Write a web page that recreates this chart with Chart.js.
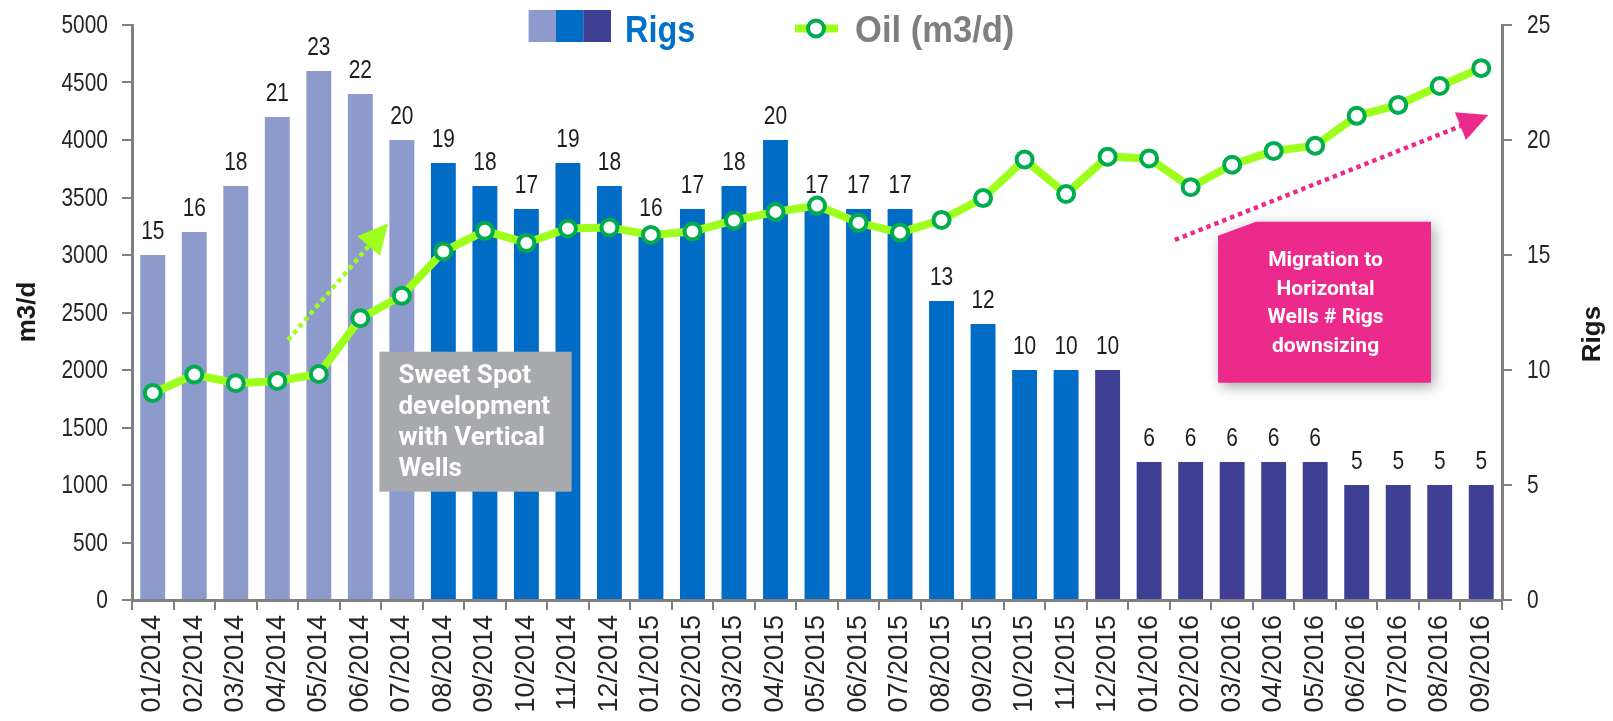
<!DOCTYPE html>
<html><head><meta charset="utf-8">
<script src="https://cdn.jsdelivr.net/npm/chart.js@4.4.1/dist/chart.umd.min.js"></script>
<style>html,body{margin:0;padding:0;background:#fff;overflow:hidden}canvas{display:block}</style>
</head><body>
<canvas id="c" width="1613" height="721"></canvas>
<script>
// ---------- DATA ----------
const months = ['01/2014','02/2014','03/2014','04/2014','05/2014','06/2014','07/2014','08/2014','09/2014','10/2014','11/2014','12/2014',
  '01/2015','02/2015','03/2015','04/2015','05/2015','06/2015','07/2015','08/2015','09/2015','10/2015','11/2015','12/2015',
  '01/2016','02/2016','03/2016','04/2016','05/2016','06/2016','07/2016','08/2016','09/2016'];
const rigs = [15,16,18,21,23,22,20,19,18,17,19,18, 16,17,18,20,17,17,17,13,12,10,10,10, 6,6,6,6,6,5,5,5,5];
const oil = [1800,1960,1885,1905,1965,2450,2645,3030,3210,3105,3230,3240,
  3175,3205,3300,3375,3430,3280,3195,3305,3495,3830,3530,3855,
  3840,3590,3785,3905,3950,4210,4305,4470,4625];
const oilTicks = [0,500,1000,1500,2000,2500,3000,3500,4000,4500,5000];
const rigTicks = [0,5,10,15,20,25];
const legendLabels = ['Rigs','Oil (m3/d)'];
const axisTitles = ['m3/d','Rigs'];
const sweetSpotText = ['Sweet Spot','development','with Vertical','Wells'];
const migrationText = ['Migration to','Horizontal','Wells # Rigs','downsizing'];

// ---------- STYLE ----------
const C_LIGHT = '#8C9ACC', C_BLUE = '#006CC6', C_DARK = '#3F3F94';
const phaseEnds = [7, 23];
const C_LIME = '#9EFF1C', C_GREEN = '#00AC4E', C_AXIS = '#808080', C_TXT = '#262626';
const C_PINK = '#EC2A8C', C_GREY = '#A7A9AC';
const SANS = "'Liberation Sans', Arial, sans-serif";
const NARROW_X = 0.82;
const barColors = rigs.map((_, i) => i < phaseEnds[0] ? C_LIGHT : (i < phaseEnds[1] ? C_BLUE : C_DARK));

// annotation anchors in data coordinates (category index, m3/d)
const greySpot = {x0: 5.46, x1: 10.09, v0: 2159, v1: 942};
const pinkSpot = {x0: 25.66, x1: 30.79, v0: 3290, v1: 1890};
const greenArrow = {x0: 3.26, v0: 2261, x1: 5.67, v1: 3276};
const pinkArrow = {x0: 24.62, v0: 3131, x1: 32.17, v1: 4217};

Chart.defaults.font.family = SANS;
Chart.defaults.color = C_TXT;

function P(chart, xi, v) { return [chart.scales.x.getPixelForValue(xi), chart.scales.y.getPixelForValue(v)]; }

function squeezeText(ctx, text, x, y, align, sx) {
  ctx.save(); ctx.translate(x, y); ctx.scale(sx, 1); ctx.textAlign = align; ctx.fillText(text, 0, 0); ctx.restore();
}

function drawArrow(ctx, p0, p1, color) {
  const dx = p1[0]-p0[0], dy = p1[1]-p0[1], L = Math.hypot(dx, dy), ux = dx/L, uy = dy/L;
  const head = 30, half = 15;
  const bx = p1[0]-ux*head, by = p1[1]-uy*head;
  ctx.save();
  ctx.strokeStyle = color; ctx.lineWidth = 4.5; ctx.setLineDash([4.5, 4]); ctx.lineCap = 'butt';
  ctx.beginPath(); ctx.moveTo(p0[0], p0[1]); ctx.lineTo(bx+ux*2, by+uy*2); ctx.stroke();
  ctx.setLineDash([]); ctx.fillStyle = color;
  ctx.beginPath(); ctx.moveTo(p1[0], p1[1]);
  ctx.lineTo(bx - uy*half, by + ux*half); ctx.lineTo(bx + uy*half, by - ux*half);
  ctx.closePath(); ctx.fill();
  ctx.restore();
}

const overlay = {
  id: 'overlay',
  afterDatasetsDraw(chart) {
    const ctx = chart.ctx;
    // bar value labels
    const meta = chart.getDatasetMeta(0);
    ctx.save();
    ctx.font = '25.5px ' + SANS; ctx.fillStyle = '#1e1e1e'; ctx.textBaseline = 'alphabetic';
    meta.data.forEach((bar, i) => squeezeText(ctx, String(rigs[i]), bar.x, bar.y - 16, 'center', NARROW_X));
    ctx.restore();

    drawArrow(ctx, P(chart, greenArrow.x0, greenArrow.v0), P(chart, greenArrow.x1, greenArrow.v1), C_LIME);
    drawArrow(ctx, P(chart, pinkArrow.x0, pinkArrow.v0), P(chart, pinkArrow.x1, pinkArrow.v1), C_PINK);

    // grey box
    let [gx0, gy0] = P(chart, greySpot.x0, greySpot.v0);
    let [gx1, gy1] = P(chart, greySpot.x1, greySpot.v1);
    ctx.save();
    ctx.fillStyle = C_GREY; ctx.fillRect(gx0, gy0, gx1-gx0, gy1-gy0);
    ctx.fillStyle = '#fff'; ctx.font = "bold 26px Roboto, 'Liberation Sans', sans-serif";
    ctx.textAlign = 'left'; ctx.textBaseline = 'middle';
    sweetSpotText.forEach((t, k) => ctx.fillText(t, gx0 + 19, gy0 + 25 + k*31));
    ctx.restore();

    // pink box
    let [px0, py0] = P(chart, pinkSpot.x0, pinkSpot.v0);
    let [px1, py1] = P(chart, pinkSpot.x1, pinkSpot.v1);
    ctx.save();
    ctx.shadowColor = 'rgba(0,0,0,0.35)'; ctx.shadowBlur = 14; ctx.shadowOffsetX = 3; ctx.shadowOffsetY = 4;
    ctx.fillStyle = C_PINK;
    ctx.beginPath();
    ctx.moveTo(px0, py0 + 14); ctx.lineTo(px0 + 38, py0); ctx.lineTo(px1, py0); ctx.lineTo(px1, py1); ctx.lineTo(px0, py1);
    ctx.closePath(); ctx.fill();
    ctx.restore();
    ctx.save();
    ctx.fillStyle = '#fff'; ctx.font = "bold 21px Roboto, 'Liberation Sans', sans-serif";
    ctx.textAlign = 'center'; ctx.textBaseline = 'middle';
    migrationText.forEach((t, k) => ctx.fillText(t, (px0+px1)/2 + 1, py0 + 39 + k*28.7));
    ctx.restore();
  },
  afterDraw(chart) {
    const ctx = chart.ctx;
    const area = chart.chartArea;
    ctx.save();
    // y-axis tick labels (narrow face)
    ctx.font = '25.5px ' + SANS; ctx.fillStyle = C_TXT; ctx.textBaseline = 'middle';
    chart.scales.y.ticks.forEach(t => squeezeText(ctx, String(t.value), area.left - 24, chart.scales.y.getPixelForValue(t.value) + 1, 'right', NARROW_X));
    chart.scales.y1.ticks.forEach(t => squeezeText(ctx, String(t.value), area.right + 25, chart.scales.y1.getPixelForValue(t.value) + 1, 'left', NARROW_X));

    // legend swatches
    const sw = [C_LIGHT, C_BLUE, C_DARK];
    sw.forEach((c, k) => { ctx.fillStyle = c; ctx.fillRect(528.6 + k*27.4, 10, 27.6, 32); });
    ctx.font = 'bold 36px ' + SANS; ctx.textBaseline = 'alphabetic';
    ctx.fillStyle = '#0070C8'; squeezeText(ctx, legendLabels[0], 625, 42, 'left', 0.9);
    // line legend
    ctx.strokeStyle = C_LIME; ctx.lineWidth = 8;
    ctx.beginPath(); ctx.moveTo(795, 28.5); ctx.lineTo(838, 28.5); ctx.stroke();
    ctx.beginPath(); ctx.arc(816, 28.5, 8, 0, Math.PI*2); ctx.fillStyle = '#fff'; ctx.fill();
    ctx.lineWidth = 4; ctx.strokeStyle = C_GREEN; ctx.stroke();
    ctx.fillStyle = '#7F7F7F';
    squeezeText(ctx, legendLabels[1], 855, 42, 'left', 0.96);
    // axis titles
    ctx.font = "bold 26px " + SANS; ctx.fillStyle = '#1a1a1a';
    ctx.textAlign = 'center'; ctx.textBaseline = 'middle';
    ctx.save(); ctx.translate(28, 312); ctx.rotate(-Math.PI/2); ctx.fillText(axisTitles[0], 0, 0); ctx.restore();
    ctx.save(); ctx.translate(1593, 334); ctx.rotate(-Math.PI/2); ctx.fillText(axisTitles[1], 0, 0); ctx.restore();
    ctx.restore();
  }
};

new Chart(document.getElementById('c'), {
  data: {
    labels: months,
    datasets: [
      { type: 'bar', label: legendLabels[0], data: rigs, yAxisID: 'y1', order: 2,
        backgroundColor: barColors, borderWidth: 0, barPercentage: 0.6, categoryPercentage: 1.0 },
      { type: 'line', label: legendLabels[1], data: oil, yAxisID: 'y', order: 1,
        borderColor: C_LIME, borderWidth: 8, tension: 0,
        pointRadius: 8, pointHoverRadius: 8, pointBorderWidth: 4,
        pointBorderColor: C_GREEN, pointBackgroundColor: '#fff' }
    ]
  },
  options: {
    responsive: false, animation: false, devicePixelRatio: 1,
    layout: { padding: { top: 25, left: 0, right: 0, bottom: 0 } },
    plugins: { legend: { display: false }, tooltip: { enabled: false } },
    scales: {
      x: {
        afterFit: s => { s.height = 121; },
        grid: { display: true, drawOnChartArea: false, drawTicks: true, tickLength: 10, offset: true, color: C_AXIS, lineWidth: 2 },
        border: { display: true, color: C_AXIS, width: 3 },
        ticks: { autoSkip: false, maxRotation: 90, minRotation: 90, padding: 5, color: C_TXT, font: { size: 27 } }
      },
      y: {
        position: 'left',
        min: oilTicks[0], max: oilTicks[oilTicks.length-1],
        afterFit: s => { s.width = 132; },
        grid: { drawOnChartArea: false, drawTicks: true, tickLength: 10, color: C_AXIS, lineWidth: 2 },
        border: { display: true, color: C_AXIS, width: 3 },
        ticks: { display: false, stepSize: oilTicks[1]-oilTicks[0] }
      },
      y1: {
        position: 'right',
        min: rigTicks[0], max: rigTicks[rigTicks.length-1],
        afterFit: s => { s.width = 111; },
        grid: { drawOnChartArea: false, drawTicks: true, tickLength: 10, color: C_AXIS, lineWidth: 2 },
        border: { display: true, color: C_AXIS, width: 3 },
        ticks: { display: false, stepSize: rigTicks[1]-rigTicks[0] }
      }
    }
  },
  plugins: [overlay]
});
</script>
</body></html>
